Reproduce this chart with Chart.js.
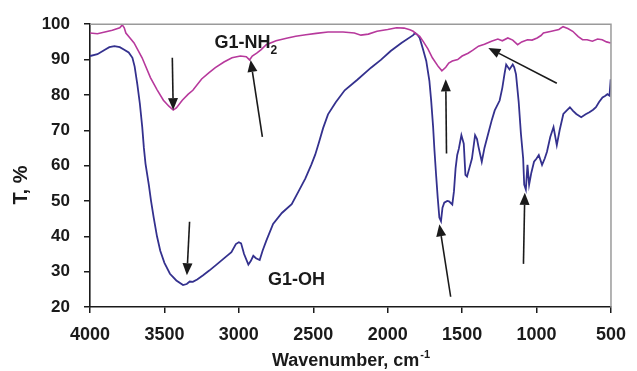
<!DOCTYPE html>
<html><head><meta charset="utf-8">
<script src="https://cdn.jsdelivr.net/npm/chart.js@4/dist/chart.umd.min.js"></script>
<style>html,body{margin:0;padding:0;background:#fff;}#wrap{width:637px;height:371px;}</style>
</head><body><div id="wrap"><canvas id="c" width="637" height="371"></canvas></div>
<script>
// ---- data ----
const nh2Wavenumber = [4000,3950,3900,3850,3800,3783,3770,3759,3730,3704,3650,3594,3550,3507,3470,3441,3420,3380,3340,3309,3250,3200,3158,3100,3046,2990,2950,2928,2910,2880,2850,2816,2750,2680,2618,2550,2480,2401,2300,2224,2180,2130,2072,2000,1941,1890,1851,1829,1800,1785,1763,1730,1700,1660,1636,1610,1590,1566,1530,1500,1460,1430,1390,1350,1303,1260,1230,1193,1160,1127,1100,1061,1030,996,970,954,900,850,822,790,757,720,691,660,625,590,559,530,502];
const nh2Transmittance = [97.5,97.3,97.8,98.3,99.0,99.8,99.0,97.5,96.0,94.7,90.5,84.9,81.5,78.5,76.8,75.7,76.3,78.5,80.2,81.3,84.5,86.3,87.7,89.3,90.5,91.0,90.8,89.9,91.0,91.8,92.8,94.2,95.3,96.0,96.6,97.0,97.4,97.8,97.8,97.5,96.9,97.2,98.0,98.5,99.0,98.9,98.4,98.0,97.0,96.6,95.2,93.0,90.5,88.0,86.8,87.8,89.0,89.6,90.0,91.0,91.8,92.6,93.8,94.3,95.2,95.8,95.3,96.1,95.5,94.2,95.0,95.6,95.5,96.1,96.8,97.5,98.0,98.5,99.3,98.8,98.0,96.5,95.6,95.6,95.2,95.8,95.6,95.0,94.7];

const ohWavenumber = [4000,3950,3900,3870,3836,3800,3770,3740,3715,3700,3682,3665,3649,3638,3627,3605,3590,3572,3550,3528,3500,3463,3420,3375,3350,3330,3309,3280,3240,3199,3150,3090,3050,3020,3000,2985,2965,2936,2920,2903,2885,2860,2840,2816,2770,2711,2645,2599,2553,2513,2487,2461,2434,2401,2349,2289,2204,2112,2046,1980,1908,1829,1816,1800,1785,1760,1741,1720,1708,1695,1686,1675,1664,1653,1642,1632,1620,1600,1588,1566,1555,1544,1533,1522,1505,1489,1478,1467,1450,1434,1413,1400,1390,1368,1350,1325,1300,1281,1248,1230,1215,1204,1182,1160,1150,1138,1120,1105,1090,1083,1072,1061,1050,1035,1017,1000,985,963,945,930,908,886,864,845,820,800,776,755,733,700,670,645,620,601,580,557,540,524,510,502];
const ohTransmittance = [91.0,91.5,92.8,93.5,93.8,93.5,92.8,92.0,90.5,88.0,83.0,77.5,70.9,65.0,60.5,54.6,50.0,45.3,40.0,35.9,32.5,29.4,27.5,26.2,26.5,27.2,27.1,27.8,29.0,30.3,32.0,34.1,35.5,37.8,38.3,38.0,35.0,32.0,33.0,34.5,33.8,33.3,36.0,38.7,43.5,46.6,49.1,52.7,56.4,60.3,63.1,66.7,70.6,74.5,77.9,81.3,84.3,87.7,89.9,92.4,94.7,96.9,97.5,97.0,96.1,92.5,89.6,84.0,78.4,71.0,64.4,57.4,50.9,45.3,44.3,48.1,49.5,50.0,49.9,49.0,52.7,59.2,63.0,64.8,68.6,66.2,57.4,56.9,59.5,62.0,68.6,67.5,65.3,61.1,65.0,69.0,73.0,75.6,78.4,82.0,86.0,88.6,87.2,88.6,87.8,85.8,78.0,69.0,62.0,54.6,53.2,60.2,54.6,58.0,61.1,62.0,63.0,60.2,62.0,63.9,68.1,70.9,65.8,70.0,74.6,75.5,76.5,75.5,74.6,73.7,74.5,75.1,75.8,76.5,78.0,79.3,79.7,80.2,79.8,84.4];

const xTickValues = [4000,3500,3000,2500,2000,1500,1000,500];
const yTickValues = [20,30,40,50,60,70,80,90,100];
const seriesLabels = ['G1-NH', 'G1-OH'];
const xTitle = 'Wavenumber, cm';
const yTitle = 'T, %';

// annotation arrows in data coordinates: [tailX, tailY, tipX, tipY]
const arrows = [
  [3447, 90.5, 3441, 75.7],
  [2842, 68.1, 2921, 89.9],
  [3331, 44.1, 3349, 29.0],
  [1605, 63.4, 1610, 84.4],
  [864, 83.3, 1324, 93.3],
  [1577, 22.9, 1653, 43.4],
  [1088, 32.2, 1079, 52.3]
];
// text anchors in data coordinates
const labelAnchors = [[3164, 93.3], [2805, 26.2]];

const toPoints = (xs, ys) => xs.map((x, i) => ({x: x, y: ys[i]}));
const FONT = "'Liberation Sans', Arial, sans-serif";
const INK = '#1a1a1a';

const decor = {
  id: 'decor',
  afterDraw(chart) {
    const ctx = chart.ctx, a = chart.chartArea;
    const sx = chart.scales.x, sy = chart.scales.y;
    ctx.save();
    // top & right frame
    ctx.strokeStyle = '#9a9a9a'; ctx.lineWidth = 1.5;
    ctx.beginPath();
    ctx.moveTo(a.left, a.top); ctx.lineTo(a.right, a.top); ctx.lineTo(a.right, a.bottom);
    ctx.stroke();
    // arrows
    ctx.strokeStyle = INK; ctx.fillStyle = INK; ctx.lineWidth = 1.6;
    arrows.forEach(([x0, y0, x1, y1]) => {
      const px0 = sx.getPixelForValue(x0), py0 = sy.getPixelForValue(y0);
      const px1 = sx.getPixelForValue(x1), py1 = sy.getPixelForValue(y1);
      const ang = Math.atan2(py1 - py0, px1 - px0);
      const L = 12, W = 5;
      const bx = px1 - L * Math.cos(ang), by = py1 - L * Math.sin(ang);
      ctx.beginPath(); ctx.moveTo(px0, py0); ctx.lineTo(bx, by); ctx.stroke();
      ctx.beginPath();
      ctx.moveTo(px1, py1);
      ctx.lineTo(bx + W * Math.sin(ang), by - W * Math.cos(ang));
      ctx.lineTo(bx - W * Math.sin(ang), by + W * Math.cos(ang));
      ctx.closePath(); ctx.fill();
    });
    // series labels
    ctx.textBaseline = 'alphabetic'; ctx.textAlign = 'left';
    ctx.font = 'bold 18px ' + FONT;
    let px = sx.getPixelForValue(labelAnchors[0][0]), py = sy.getPixelForValue(labelAnchors[0][1]);
    ctx.fillText(seriesLabels[0], px, py);
    let w = ctx.measureText(seriesLabels[0]).width;
    ctx.font = 'bold 12px ' + FONT;
    ctx.fillText('2', px + w, py + 6);
    ctx.font = 'bold 18px ' + FONT;
    px = sx.getPixelForValue(labelAnchors[1][0]); py = sy.getPixelForValue(labelAnchors[1][1]);
    ctx.fillText(seriesLabels[1], px, py);
    // x title with superscript
    ctx.font = 'bold 18px ' + FONT;
    const w1 = ctx.measureText(xTitle).width;
    ctx.font = 'bold 11px ' + FONT;
    const w2 = ctx.measureText('-1').width;
    const cx = (a.left + a.right) / 2;
    const start = cx - (w1 + w2) / 2;
    ctx.font = 'bold 18px ' + FONT;
    ctx.fillText(xTitle, start, 366);
    ctx.font = 'bold 11px ' + FONT;
    ctx.fillText('-1', start + w1 + 1, 358);
    // y title rotated
    ctx.translate(27, 185);
    ctx.rotate(-Math.PI / 2);
    ctx.font = 'bold 20px ' + FONT;
    ctx.textAlign = 'center';
    ctx.fillText(yTitle, 0, 0);
    ctx.restore();
  }
};

new Chart(document.getElementById('c'), {
  type: 'line',
  data: {
    datasets: [
      {label: 'G1-NH2', data: toPoints(nh2Wavenumber, nh2Transmittance), borderColor: '#b7399c', borderWidth: 1.6, pointRadius: 0, tension: 0, fill: false},
      {label: 'G1-OH', data: toPoints(ohWavenumber, ohTransmittance), borderColor: '#34318e', borderWidth: 1.8, pointRadius: 0, tension: 0, fill: false}
    ]
  },
  options: {
    responsive: false, animation: false, devicePixelRatio: 1,
    layout: {padding: {left: 0, right: 15, top: 21, bottom: 0}},
    plugins: {legend: {display: false}, tooltip: {enabled: false}},
    scales: {
      x: {
        type: 'linear', reverse: true, min: 500, max: 4000,
        afterBuildTicks: s => { s.ticks = xTickValues.map(v => ({value: v})); },
        afterFit: s => { s.height = 64; },
        grid: {drawOnChartArea: false, drawTicks: true, tickLength: 6, color: INK, lineWidth: 1.5},
        border: {display: true, color: INK, width: 1.6},
        ticks: {color: INK, font: {family: FONT, weight: 'bold', size: 18}, padding: 11, maxRotation: 0, autoSkip: false, callback: v => String(v)}
      },
      y: {
        type: 'linear', min: 20, max: 100,
        afterBuildTicks: s => { s.ticks = yTickValues.map(v => ({value: v})); },
        afterFit: s => { s.width = 90; },
        grid: {drawOnChartArea: false, drawTicks: true, tickLength: 6, color: INK, lineWidth: 1.5},
        border: {display: true, color: INK, width: 1.6},
        ticks: {color: INK, font: {family: FONT, weight: 'bold', size: 17}, padding: 14, callback: v => String(v)}
      }
    }
  },
  plugins: [decor]
});
</script>
</body></html>
